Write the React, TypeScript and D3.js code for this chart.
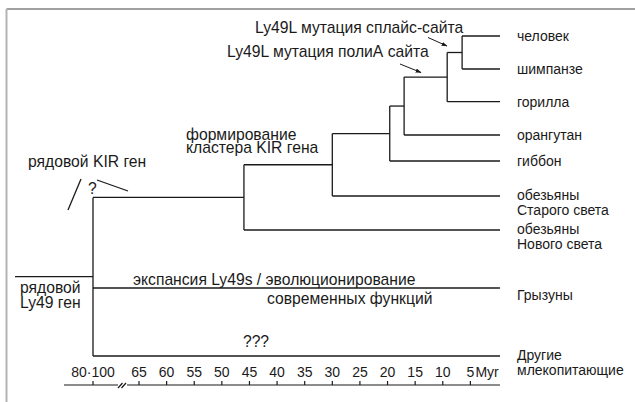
import React from "react";
import * as d3 from "d3";

// internal nodes of the tree (time in Myr before present)
const nodeIds = ["n0", "n1", "n2", "n3", "n4", "n5", "n6"];
const nodeParents = ["", "n0", "n1", "n2", "n3", "n4", "n5"];
const nodeTimes = [90, 46, 30, 19.6, 17, 9.2, 6.5];

// leaves
const leafNames = [
  "человек",
  "шимпанзе",
  "горилла",
  "орангутан",
  "гиббон",
  "обезьяны|Старого света",
  "обезьяны|Нового света",
  "Грызуны",
  "Другие|млекопитающие",
];
const leafParents = ["n6", "n6", "n5", "n4", "n3", "n2", "n1", "n0", "n0"];

// time axis
const tickValues = [90, 65, 60, 55, 50, 45, 40, 35, 30, 25, 20, 15, 10, 5];
const tickLabels = ["80·100", "65", "60", "55", "50", "45", "40", "35", "30", "25", "20", "15", "10", "5"];

// layout (pixel rows for the leaves, label offsets)
const leafY = [36, 69, 101.7, 135, 161, 196, 230, 288, 356];
const labelDy = [5, 5, 5, 5, 5, 4, 4, 12, 4];

const W = 635;
const H = 402;
const FONT = "'Liberation Sans', Arial, Helvetica, sans-serif";
const INK = "#1a1a1a";

type Row = { id: string; parent: string; t: number; label?: string; row?: number };

export default function App() {
  const rows: Row[] = [
    ...nodeIds.map((id, i) => ({ id, parent: nodeParents[i], t: nodeTimes[i] })),
    ...leafNames.map((label, i) => ({ id: "l" + i, parent: leafParents[i], t: 0, label, row: i })),
  ];

  const root = d3
    .stratify<Row>()
    .id((d) => d.id)
    .parentId((d) => d.parent || null)(rows);

  // broken time scale: 80-100 squeezed left of 65
  const x = d3.scaleLinear().domain([90, 65, 0]).range([93, 139, 498]);

  const yOf = new Map<any, number>();
  root.eachAfter((n: any) => {
    if (!n.children) yOf.set(n, leafY[n.data.row]);
    else {
      const ys = n.children.map((c: any) => yOf.get(c));
      yOf.set(n, ((d3.min(ys) as number) + (d3.max(ys) as number)) / 2);
    }
  });

  const internal = root.descendants().filter((n) => n.children);
  const leaves = root.leaves();
  const rootY = yOf.get(root) as number;

  const lines: JSX.Element[] = [];
  internal.forEach((n: any, i) => {
    const ys = n.children.map((c: any) => yOf.get(c));
    const px = x(n.data.t);
    lines.push(
      <line key={"v" + i} x1={px} x2={px} y1={d3.min(ys) as number} y2={d3.max(ys) as number} />
    );
    n.children.forEach((c: any, j: number) => {
      const cx = c.children ? x(c.data.t) : x(c.data.t) + 2;
      lines.push(
        <line key={"h" + i + "_" + j} x1={px} x2={cx} y1={yOf.get(c)} y2={yOf.get(c)} />
      );
    });
  });

  const axisY = 385;

  return (
    <svg
      width={W}
      height={H}
      style={{ position: "absolute", left: 0, top: 0, background: "#fff" }}
      fontFamily={FONT}
      fontSize={14}
    >
      {/* frame */}
      <line x1={6.5} x2={W} y1={9} y2={9} stroke="#a0a0a0" strokeWidth={2} />
      <line x1={6.5} x2={6.5} y1={9} y2={H} stroke="#b4b4b4" strokeWidth={2} />

      <g stroke={INK} strokeWidth={1.3} fill="none">
        {lines}
        <line x1={15} x2={x(90)} y1={rootY} y2={rootY} />
        {/* ancestral KIR marks */}
        <line x1={68} y1={210} x2={81} y2={179} />
        <line x1={97} y1={180} x2={128} y2={191} />
      </g>

      {/* arrows */}
      <defs>
        <marker id="ah" viewBox="0 0 10 10" refX={9} refY={5} markerWidth={6} markerHeight={6} orient="auto">
          <path d="M0,1.5 L10,5 L0,8.5 Z" fill={INK} />
        </marker>
      </defs>
      <g stroke={INK} strokeWidth={1}>
        <line x1={428} y1={37.5} x2={447} y2={46} markerEnd="url(#ah)" />
        <line x1={400} y1={64} x2={421} y2={72.5} markerEnd="url(#ah)" />
      </g>

      {/* leaf labels */}
      <g fill={INK}>
        {leaves.map((l: any, i) => {
          const parts = (l.data.label as string).split("|");
          const y = yOf.get(l) as number;
          const y0 = y + labelDy[l.data.row];
          return (
            <text key={"lb" + i} x={517} y={y0}>
              {parts.map((p, k) => (
                <tspan key={k} x={517} dy={k === 0 ? 0 : 14.5}>
                  {p}
                </tspan>
              ))}
            </text>
          );
        })}
      </g>

      {/* annotations */}
      <g fill={INK} fontSize={15.7}>
        <text x={255} y={33.3}>Ly49L мутация сплайс-сайта</text>
        <text x={227} y={57.3}>Ly49L мутация полиА сайта</text>
        <text x={186} y={139.5}>формирование</text>
        <text x={186} y={153.3}>кластера KIR гена</text>
        <text x={28} y={167}>рядовой KIR ген</text>
        <text x={88} y={194}>?</text>
        <text x={20} y={293}>рядовой</text>
        <text x={20} y={307.5}>Ly49 ген</text>
        <text x={133} y={284.5}>экспансия Ly49s / эволюционирование</text>
        <text x={267} y={304}>современных функций</text>
        <text x={256} y={347} textAnchor="middle">???</text>
      </g>

      {/* time axis */}
      <g stroke={INK} strokeWidth={1.2}>
        <line x1={64} x2={118} y1={axisY} y2={axisY} />
        <line x1={127} x2={500} y1={axisY} y2={axisY} />
        <line x1={118} y1={388} x2={122.5} y2={383} />
        <line x1={121.5} y1={388} x2={126} y2={383} />
        {tickValues.map((v) => (
          <line key={"t" + v} x1={x(v)} x2={x(v)} y1={axisY - 4} y2={axisY} />
        ))}
      </g>
      <g fill={INK}>
        {tickValues.map((v, i) => (
          <text key={"tl" + v} x={x(v)} y={376.7} textAnchor="middle">
            {tickLabels[i]}
          </text>
        ))}
        <text x={x(5) + 5} y={376.7}>Myr</text>
      </g>
    </svg>
  );
}
